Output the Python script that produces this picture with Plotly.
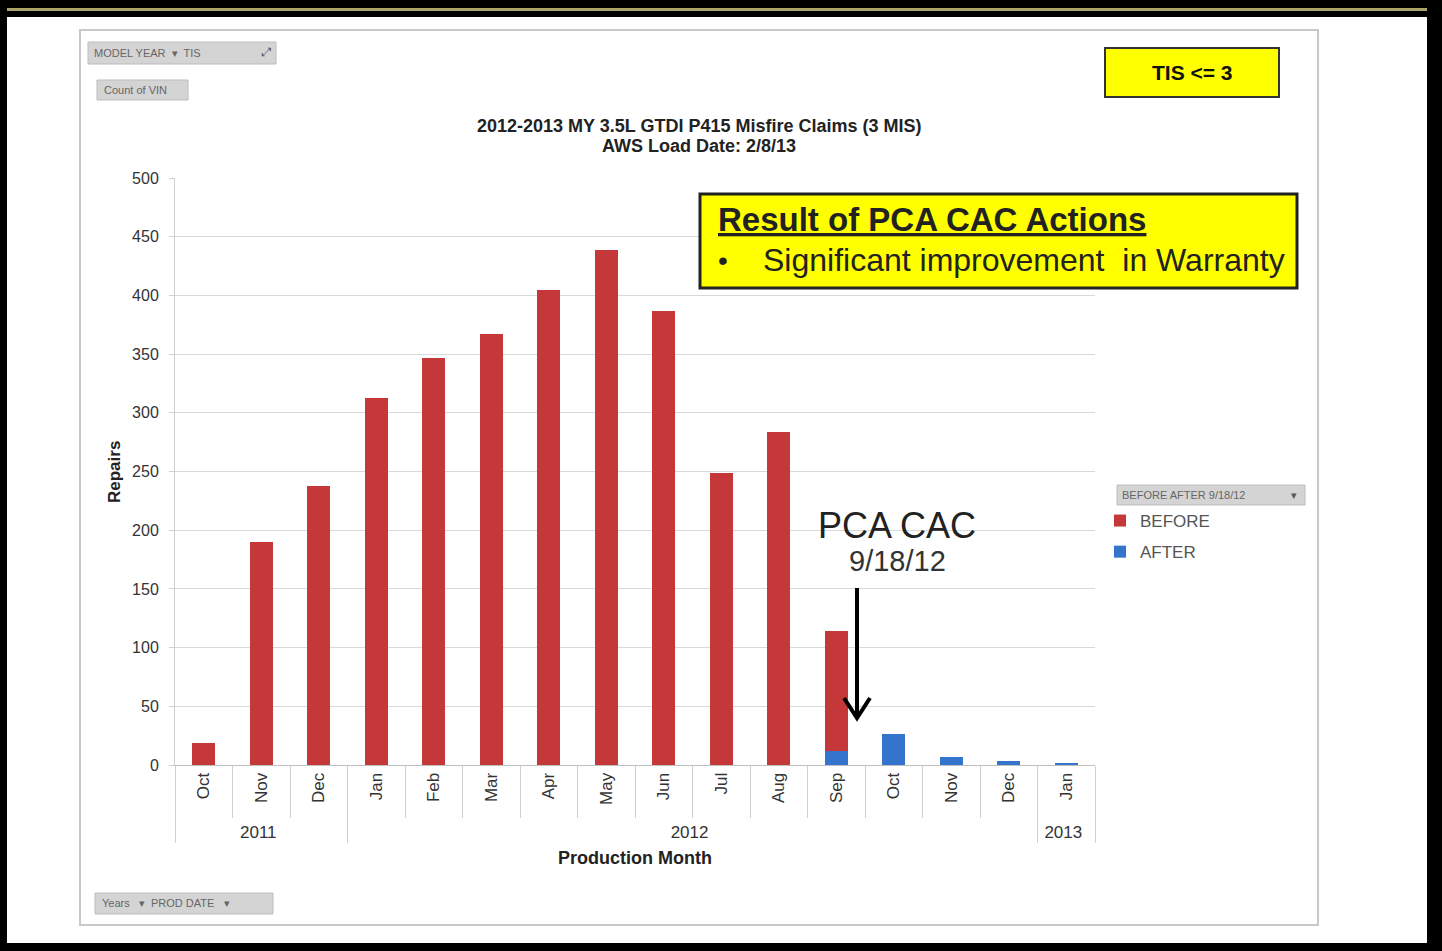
import plotly.graph_objects as go

# ---------------- data ----------------
years = ["2011"] * 3 + ["2012"] * 12 + ["2013"]
months = ["Oct", "Nov", "Dec", "Jan", "Feb", "Mar", "Apr", "May", "Jun",
          "Jul", "Aug", "Sep", "Oct", "Nov", "Dec", "Jan"]
before = [19, 190, 238, 313, 347, 367, 405, 439, 387, 249, 284, 102,
          None, None, None, None]
after = [None, None, None, None, None, None, None, None, None, None, None,
         12, 26, 7, 3, 1]
y_ticks = [0, 50, 100, 150, 200, 250, 300, 350, 400, 450, 500]

title_1 = "2012-2013 MY 3.5L GTDI P415 Misfire Claims (3 MIS)"
title_2 = "AWS Load Date: 2/8/13"

RED = "#C5383A"
BLUE = "#3474CC"
FONT = "Arial, Liberation Sans, sans-serif"
NARROW = "Liberation Sans Narrow, Arial Narrow, Liberation Sans, sans-serif"

# month labels: a zero-width-space suffix (one per year index) keeps the same
# month name in different years a separate, correctly ordered category
ZW = "\u200b"
year_order = list(dict.fromkeys(years))
month_labels = [m + ZW * year_order.index(y) for y, m in zip(years, months)]

# ---------------- layout geometry (pixels) ----------------
W, H = 1442, 951
PL, PR, PT, PB = 175, 1095, 178, 765  # plot area


def px(x):
    return (x - PL) / (PR - PL)


def py(y):
    return (PB - y) / (PB - PT)


fig = go.Figure()
fig.add_trace(go.Bar(x=[years, month_labels], y=after, name="AFTER",
                     legendgroup="after", legendrank=2,
                     marker=dict(color=BLUE, line=dict(width=0))))
fig.add_trace(go.Bar(x=[years, month_labels], y=before, name="BEFORE",
                     legendgroup="before", legendrank=1,
                     marker=dict(color=RED, line=dict(width=0))))

shapes = []
# outer black frame
shapes.append(dict(type="rect", xref="paper", yref="paper", x0=px(0), x1=px(W),
                   y0=py(0), y1=py(17), fillcolor="black", line=dict(width=0), layer="above"))
shapes.append(dict(type="rect", xref="paper", yref="paper", x0=px(0), x1=px(W),
                   y0=py(8), y1=py(11), fillcolor="#A9A46A", line=dict(width=0), layer="above"))
shapes.append(dict(type="rect", xref="paper", yref="paper", x0=px(0), x1=px(7),
                   y0=py(0), y1=py(H), fillcolor="black", line=dict(width=0), layer="above"))
shapes.append(dict(type="rect", xref="paper", yref="paper", x0=px(1427), x1=px(W),
                   y0=py(0), y1=py(H), fillcolor="black", line=dict(width=0), layer="above"))
shapes.append(dict(type="rect", xref="paper", yref="paper", x0=px(0), x1=px(W),
                   y0=py(943), y1=py(H), fillcolor="black", line=dict(width=0), layer="above"))
# inner gray frame
shapes.append(dict(type="rect", xref="paper", yref="paper", x0=px(80), x1=px(1318),
                   y0=py(30), y1=py(925), line=dict(color="#C8C8C8", width=2)))
# filter buttons
for (x0, y0, x1, y1) in [(88, 42, 276, 64), (97, 80, 188, 100), (95, 893, 273, 914),
                         (1117, 485, 1305, 505)]:
    shapes.append(dict(type="rect", xref="paper", yref="paper", x0=px(x0), x1=px(x1),
                       y0=py(y0), y1=py(y1), fillcolor="#D4D4D4",
                       line=dict(color="#BDBDBD", width=1)))
# TIS box
shapes.append(dict(type="rect", xref="paper", yref="paper", x0=px(1105), x1=px(1279),
                   y0=py(48), y1=py(97), fillcolor="#FFFF00",
                   line=dict(color="#333333", width=2)))
# result box
shapes.append(dict(type="rect", xref="paper", yref="paper", x0=px(700), x1=px(1297),
                   y0=py(194), y1=py(288), fillcolor="#FFFF00",
                   line=dict(color="#222222", width=3)))
# arrow
shapes.append(dict(type="line", xref="paper", yref="paper", x0=px(857), x1=px(857),
                   y0=py(588), y1=py(716), line=dict(color="black", width=4)))
shapes.append(dict(type="path", xref="paper", yref="paper",
                   path=f"M {px(844)},{py(698)} L {px(857)},{py(718)} L {px(870)},{py(698)}",
                   line=dict(color="black", width=4)))

ann = []


def text(x, y, s, size, color="#222222", bold=False, xanchor="center", family=FONT, angle=0):
    ann.append(dict(xref="paper", yref="paper", x=px(x), y=py(y), text=(f"<b>{s}</b>" if bold else s),
                    showarrow=False, xanchor=xanchor, yanchor="middle", textangle=angle,
                    font=dict(size=size, color=color, family=family)))


text(699, 126, title_1, 18, bold=True)
text(699, 146, title_2, 18, bold=True)
text(115, 472, "Repairs", 17, bold=True, angle=-90)
text(635, 858, "Production Month", 18, bold=True)
text(1192, 72, "TIS &lt;= 3", 21, bold=True, color="#111111")
text(716, 220, "<u>Result of PCA CAC Actions</u>", 33, bold=True, xanchor="left",
     color="#222222", family=NARROW)
text(716, 260, "•", 28, xanchor="left", family=NARROW)
text(761, 260, "Significant improvement  in Warranty", 32, xanchor="left",
     color="#222222", family=NARROW)
text(897, 525, "PCA CAC", 36, color="#222222")
text(897, 561, "9/18/12", 29, color="#333333")
# button labels
text(92, 53, "MODEL YEAR  ▾  TIS", 11, color="#666666", xanchor="left")
text(266, 52, "⤢", 12, color="#555555")
text(102, 90, "Count of VIN", 11, color="#666666", xanchor="left")
text(100, 903, "Years   ▾  PROD DATE   ▾", 11, color="#666666", xanchor="left")
text(1120, 495, "BEFORE AFTER 9/18/12", 11, color="#666666", xanchor="left")
text(1294, 495, "▾", 11, color="#555555")

fig.update_layout(
    width=W, height=H,
    margin=dict(l=PL, r=W - PR, t=PT, b=H - PB, autoexpand=False),
    paper_bgcolor="white", plot_bgcolor="white",
    barmode="stack", bargap=0.6,
    font=dict(family=FONT, color="#444444"),
    showlegend=True,
    legend=dict(x=px(1100), y=py(503), xanchor="left", yanchor="top",
                traceorder="grouped", font=dict(size=17, color="#555555"),
                tracegroupgap=6, bgcolor="rgba(0,0,0,0)"),
    shapes=shapes, annotations=ann,
    xaxis=dict(type="multicategory", showline=True, linecolor="#BFBFBF",
               ticks="outside", ticklen=52, tickcolor="#D0D0D0",
               tickangle=-90, tickfont=dict(size=17, color="#333333"),
               showdividers=True, dividercolor="#D0D0D0", dividerwidth=1,
               showgrid=False),
    yaxis=dict(range=[0, 500], tickvals=y_ticks, showline=True, linecolor="#D0D0D0",
               ticks="outside", ticklen=5, tickcolor="#D0D0D0",
               gridcolor="#D9D9D9", gridwidth=1, zeroline=False,
               tickfont=dict(size=16, color="#333333"), ticklabelstandoff=7),
)

# remove the browser's default 8px body margin so the figure starts at (0, 0)
fig.write_html("out.html", post_script="document.body.style.margin='0';",
               config={"displayModeBar": False})
